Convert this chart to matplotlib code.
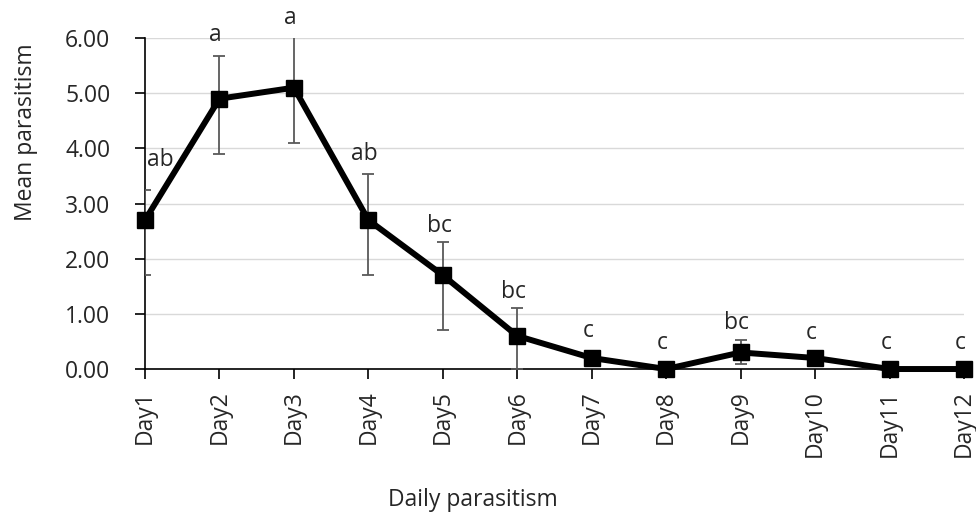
import matplotlib
matplotlib.use("Agg")
import matplotlib.pyplot as plt

plt.rcParams['font.family'] = ['Open Sans', 'DejaVu Sans']

days = ['Day1', 'Day2', 'Day3', 'Day4', 'Day5', 'Day6',
        'Day7', 'Day8', 'Day9', 'Day10', 'Day11', 'Day12']
mean_parasitism = [2.7, 4.9, 5.1, 2.7, 1.7, 0.6, 0.2, 0.0, 0.3, 0.2, 0.0, 0.0]
err_low = [1.0, 1.0, 1.0, 1.0, 1.0, 0.6, 0.1, 0.0, 0.2, 0.1, 0.0, 0.0]
err_high = [0.55, 0.77, 1.0, 0.83, 0.6, 0.5, 0.1, 0.0, 0.22, 0.1, 0.0, 0.0]
letters = ['ab', 'a', 'a', 'ab', 'bc', 'bc', 'c', 'c', 'bc', 'c', 'c', 'c']
letter_y = [3.78, 6.05, 6.37, 3.9, 2.6, 1.4, 0.69, 0.47, 0.83, 0.65, 0.47, 0.47]

x = list(range(len(days)))
fs = 16.5

fig = plt.figure(figsize=(9.76, 5.18), dpi=100)
ax = fig.add_axes([0.1486, 0.2876, 0.8391, 0.639])

ax.errorbar(x, mean_parasitism, yerr=[err_low, err_high], fmt='none',
            ecolor='#595959', elinewidth=1.3, capsize=4.5, capthick=1.3, zorder=2)
ax.plot(x, mean_parasitism, color='black', linewidth=4.3, marker='s',
        markersize=11.5, zorder=3, clip_on=False)

for i, (lab, ly) in enumerate(zip(letters, letter_y)):
    dx = 0.2 if i == 0 else -0.05
    ax.text(i + dx, ly, lab, ha='center', va='center', fontsize=fs,
            color='#262626', zorder=4, clip_on=False)

ax.set_xlim(0, len(days) - 1)
ax.set_ylim(0, 6)
ax.set_yticks([0, 1, 2, 3, 4, 5, 6])
ax.set_yticklabels([f'{v:.2f}' for v in range(7)])
ax.set_xticks(x)
ax.set_xticklabels(days, rotation=90)

ax.grid(axis='y', color='#d9d9d9', linewidth=1.0)
ax.set_axisbelow(True)
for s in ['top', 'right']:
    ax.spines[s].set_visible(False)
for s in ['left', 'bottom']:
    ax.spines[s].set_linewidth(1.2)
    ax.spines[s].set_zorder(1)

ax.tick_params(axis='y', direction='out', length=7, width=1.2, pad=18,
               labelsize=fs, labelcolor='#262626')
ax.tick_params(axis='x', direction='out', length=7, width=1.2, pad=8,
               labelsize=fs, labelcolor='#262626')

ax.set_ylabel('Mean parasitism', fontsize=fs, color='#262626')
ax.yaxis.set_label_coords(-0.131, 0.716)
ax.set_xlabel('Daily parasitism', fontsize=fs, color='#262626')
ax.xaxis.set_label_coords(0.40, -0.36)

fig.savefig('out.png', dpi=100)
